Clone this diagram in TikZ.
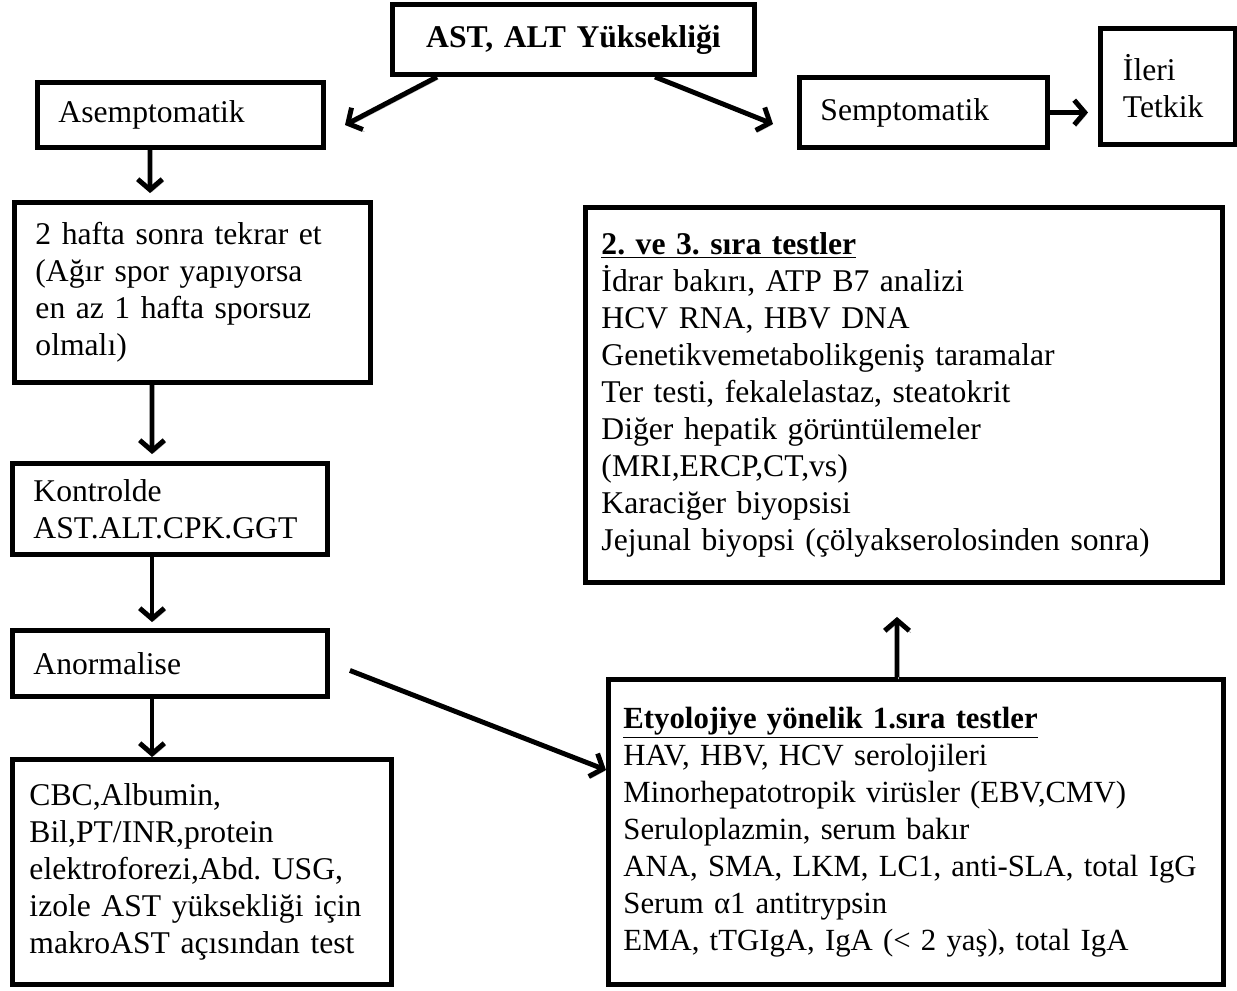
\documentclass[tikz,border=0pt]{standalone}
\usepackage{fontspec}
\setmainfont{Liberation Serif}
\usepackage{xcolor}
\usetikzlibrary{arrows.meta,positioning}

\begin{document}
\begin{tikzpicture}[
    x=1cm, y=-1cm,
    box/.style={rectangle, draw, line width=2.8pt, anchor=north west, align=left, inner xsep=0.42cm, inner ysep=0pt, font=\fontsize{18}{21}\selectfont\frenchspacing},
    arr/.style={line width=2.8pt, -{Straight Barb[length=6pt,width=14pt]}, preaction={draw=black!30, transform canvas={shift={(0.9pt,-1.2pt)}}}}
]
\useasboundingbox (0,0) rectangle (24.74,19.8);

\node[box, text width=6.4cm,  minimum height=1.4cm, align=center, font=\fontsize{18}{21}\selectfont\bfseries] (top) at (7.8,0.04) {AST, ALT Yüksekliği};
\node[box, text width=4.88cm, minimum height=1.3cm]  (asym)    at (0.7,1.6)    {Asemptomatik};
\node[box, text width=4.12cm, minimum height=1.4cm]  (sym)     at (15.94,1.5)  {Semptomatik};
\node[box, text width=1.8cm,  minimum height=2.32cm, inner xsep=0.45cm] (ileri) at (21.96,0.52) {İleri\\Tetkik};
\node[box, text width=6.28cm, minimum height=3.6cm]  (hafta)   at (0.24,4.0)   {2 hafta sonra tekrar et\\(Ağır spor yapıyorsa\\en az 1 hafta sporsuz\\olmalı)};
\node[box, text width=5.46cm, minimum height=1.82cm] (kontrol) at (0.2,9.22)   {Kontrolde\\AST.ALT.CPK.GGT};
\node[box, text width=5.46cm, minimum height=1.32cm] (anorm)   at (0.2,12.56)  {Anormalise};
\node[box, text width=6.9cm,  minimum height=4.5cm, inner xsep=0.34cm] (cbc) at (0.2,15.14) {CBC,Albumin,\\Bil,PT/INR,protein\\elektroforezi,Abd. USG,\\izole AST yüksekliği için\\makroAST açısından test};
\node[box, text width=12.1cm, minimum height=7.5cm, inner xsep=0.32cm] (second) at (11.66,4.1) {\underline{\textbf{2. ve 3. sıra testler}}\\İdrar bakırı, ATP B7 analizi\\HCV RNA, HBV DNA\\Genetikvemetabolikgeniş taramalar\\Ter testi, fekalelastaz, steatokrit\\Diğer hepatik görüntülemeler\\(MRI,ERCP,CT,vs)\\Karaciğer biyopsisi\\Jejunal biyopsi (çölyakserolosinden sonra)};
\node[box, text width=11.7cm, minimum height=6.1cm, inner xsep=0.3cm, font=\fontsize{17.5}{21}\selectfont\frenchspacing] (first) at (12.12,13.54) {\underline{\textbf{Etyolojiye yönelik 1.sıra testler}}\\HAV, HBV, HCV serolojileri\\Minorhepatotropik virüsler (EBV,CMV)\\Seruloplazmin, serum bakır\\\mbox{ANA, SMA, LKM, LC1, anti-SLA, total IgG}\\Serum α1 antitrypsin\\EMA, tTGIgA, IgA (< 2 yaş), total IgA};

\coordinate (asymtip) at (6.9,2.5);
\coordinate (symtip)  at (15.46,2.48);

\draw[arr] ([xshift=0.94cm]top.south west) -- (asymtip);
\draw[arr] ([xshift=5.3cm]top.south west)  -- (symtip);
\draw[arr, shorten >=0.2cm] (sym.east) -- (sym.east -| ileri.west);
\draw[arr] ([xshift=2.3cm]asym.south west)   -- ([xshift=2.76cm,yshift=1.4mm]hafta.north west);
\draw[arr] ([xshift=2.8cm]hafta.south west)  -- ([xshift=2.84cm,yshift=1.4mm]kontrol.north west);
\draw[arr] ([xshift=2.84cm]kontrol.south west) -- ([xshift=2.84cm,yshift=1.2mm]anorm.north west);
\draw[arr] ([xshift=2.84cm]anorm.south west)  -- ([xshift=2.84cm]cbc.north west);
\draw[arr] ([xshift=0.4cm,yshift=-0.14cm]anorm.east) -- ([yshift=-1.86cm]first.north west);
\draw[arr] ([xshift=5.82cm]first.north west) -- ([xshift=6.28cm,yshift=-0.64cm]second.south west);
\end{tikzpicture}
\end{document}
